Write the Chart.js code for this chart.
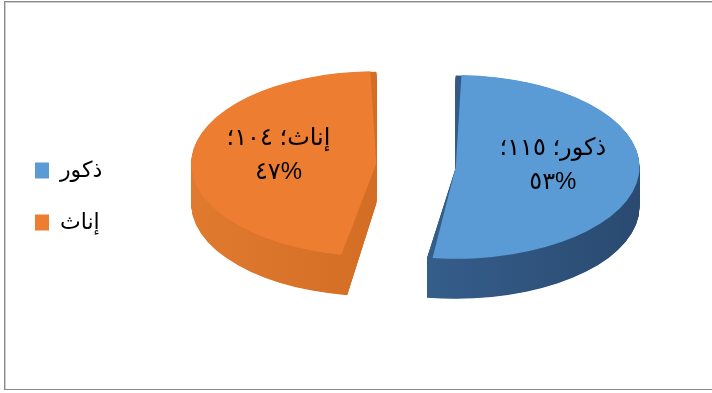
<!DOCTYPE html>
<html><head><meta charset="utf-8">
<script src="https://cdn.jsdelivr.net/npm/chart.js@4.4.1/dist/chart.umd.min.js"></script>
<style>
html,body{margin:0;padding:0;background:#fff;}
#wrap{position:relative;width:712px;height:393px;overflow:hidden;}
#frame{position:absolute;left:4px;top:1px;width:730px;height:387px;border:1px solid #8a8a8a;box-shadow:inset 1px 1px 0 #cfcfcf;pointer-events:none;}
canvas{position:absolute;left:0;top:0;}
</style></head>
<body><div id="wrap"><canvas id="c" width="712" height="393"></canvas><div id="frame"></div></div>
<script>
const categories = ['ذكور', 'إناث'];
const counts = [115, 104];
const explode = [143, 176];

const TILT = 0.5;      // vertical squash of the pie disc
const DEPTH = 40;      // screen depth of the disc side
const SHIFT_X = 8;     // nudge the disc right inside the frame
const SHIFT_Y = -31;   // move the disc up inside the frame
const LABEL_FRAC = 0.53;

const arDigits = s => String(s).replace(/\d/g, d => '٠١٢٣٤٥٦٧٨٩'[d]);
const total = counts.reduce((a, b) => a + b, 0);

function arcGeom(arc) {
  const p = arc.getProps(['x', 'y', 'startAngle', 'endAngle', 'outerRadius', 'circumference'], true);
  const off = (arc.options.offset || 0) / 4;
  const mid = (p.startAngle + p.endAngle) / 2;
  const fix = 1 - Math.sin(Math.min(Math.PI, p.circumference || 0));
  return {
    cx: p.x + Math.cos(mid) * off,
    cy: p.y + Math.sin(mid) * off,
    r: p.outerRadius + off * fix,
    start: p.startAngle, end: p.endAngle, mid
  };
}

const sideColors = [['#3d6c9f', '#2a4a70'], ['#e07a2f', '#c7611b']];

const pie3d = {
  id: 'pie3d',
  beforeDatasetsDraw(chart) {
    const meta = chart.getDatasetMeta(0);
    if (!meta.data.length) return;
    const ctx = chart.ctx;
    const a0 = meta.data[0];
    ctx.save();
    ctx.translate(a0.x + SHIFT_X, a0.y + SHIFT_Y);
    ctx.scale(1, TILT);
    ctx.translate(-a0.x, -a0.y);
    const steps = Math.round(DEPTH / TILT);
    meta.data.forEach((arc, i) => {
      const g = arcGeom(arc);
      const grad = ctx.createLinearGradient(g.cx - g.r, 0, g.cx + g.r, 0);
      grad.addColorStop(0, sideColors[i][0]);
      grad.addColorStop(1, sideColors[i][1]);
      ctx.fillStyle = grad;
      for (let s = steps; s >= 1; s--) {
        ctx.beginPath();
        ctx.moveTo(g.cx, g.cy + s);
        ctx.arc(g.cx, g.cy + s, g.r, g.start, g.end);
        ctx.closePath();
        ctx.fill();
      }
    });
  },
  afterDatasetsDraw(chart) {
    const meta = chart.getDatasetMeta(0);
    if (!meta.data.length) return;
    const ctx = chart.ctx;
    ctx.restore();
    const a0 = meta.data[0];
    ctx.save();
    ctx.fillStyle = '#000';
    ctx.font = '24px "Liberation Sans", "DejaVu Sans", sans-serif';
    ctx.textAlign = 'center';
    ctx.textBaseline = 'middle';
    meta.data.forEach((arc, i) => {
      const g = arcGeom(arc);
      const x = g.cx + Math.cos(g.mid) * g.r * LABEL_FRAC + SHIFT_X;
      const yU = g.cy + Math.sin(g.mid) * g.r * LABEL_FRAC;
      const y = a0.y + SHIFT_Y + (yU - a0.y) * TILT - 5;
      const pct = Math.round(counts[i] / total * 100);
      ctx.fillText(categories[i] + '؛ ' + arDigits(counts[i]) + '؛', x, y - 17);
      ctx.fillText(arDigits(pct) + '%', x, y + 17);
    });
    ctx.restore();
  }
};

new Chart(document.getElementById('c'), {
  type: 'pie',
  data: {
    labels: categories,
    datasets: [{
      data: counts,
      backgroundColor: ['#5b9bd5', '#ed7d31'],
      borderWidth: 0,
      offset: explode
    }]
  },
  options: {
    responsive: false,
    animation: false,
    events: [],
    radius: 148,
    layout: { padding: { left: 5, right: 0, top: 0, bottom: 0 } },
    plugins: {
      tooltip: { enabled: false },
      legend: {
        position: 'left',
        align: 'center',
        labels: {
          boxWidth: 14,
          boxHeight: 16,
          padding: 30,
          color: '#000',
          font: { size: 22, family: '"Liberation Sans", "DejaVu Sans", sans-serif' }
        }
      }
    }
  },
  plugins: [pie3d]
});
</script>
</body></html>
